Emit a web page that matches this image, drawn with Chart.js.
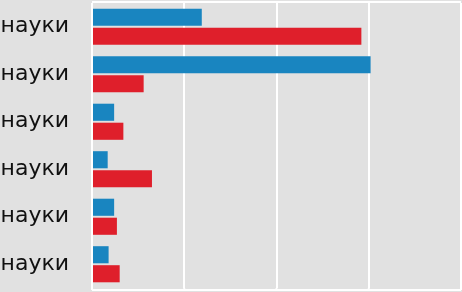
<!DOCTYPE html>
<html>
<head>
<meta charset="utf-8">
<script src="https://cdn.jsdelivr.net/npm/chart.js@4"></script>
<style>
    html, body { margin: 0; padding: 0; background: #e1e1e1; overflow: hidden; }
    #wrap { position: relative; width: 462px; height: 292px; }
</style>
</head>
<body>
<div id="wrap"><canvas id="chart"></canvas></div>
<script>
// Categories (labels are cut off on the left in the source)
const categories = ['науки', 'науки', 'науки', 'науки', 'науки', 'науки'];

// Series values
const blueValues = [11.9, 30.2, 2.4, 1.7, 2.4, 1.8];
const redValues = [29.2, 5.6, 3.4, 6.5, 2.7, 3.0];

// Value axis ticks (gridlines only, no labels shown)
const xTicks = [0, 10, 20, 30, 40];

// White frame lines above and below the plot area, gridlines run down to the lower one
const frame = {
    id: 'frame',
    beforeDatasetsDraw(chart) {
        const { ctx, chartArea: a, scales } = chart;
        const bottom = a.bottom + 2;
        ctx.save();
        ctx.strokeStyle = '#ffffff';
        ctx.lineWidth = 2;
        ctx.beginPath();
        ctx.moveTo(a.left, a.top - 1);
        ctx.lineTo(a.right, a.top - 1);
        ctx.moveTo(a.left, bottom);
        ctx.lineTo(a.right, bottom);
        xTicks.forEach(v => {
            const x = scales.x.getPixelForValue(v);
            ctx.moveTo(x, a.bottom);
            ctx.lineTo(x, bottom);
        });
        ctx.stroke();
        ctx.restore();
    }
};

new Chart(document.getElementById('chart'), {
    type: 'bar',
    data: {
        labels: categories,
        datasets: [{
            data: blueValues,
            backgroundColor: '#1985c0'
        }, {
            data: redValues,
            backgroundColor: '#df1f2b'
        }]
    },
    options: {
        indexAxis: 'y',
        responsive: true,
        maintainAspectRatio: false,
        animation: false,
        devicePixelRatio: 1,
        categoryPercentage: 0.8,
        barPercentage: 0.9,
        layout: { padding: { top: 3, right: 1, left: 0, bottom: 0 } },
        plugins: {
            legend: { display: false },
            tooltip: { enabled: false }
        },
        scales: {
            x: {
                min: xTicks[0],
                max: xTicks[xTicks.length - 1],
                afterBuildTicks: (scale) => {
                    scale.ticks = xTicks.map(v => ({ value: v }));
                },
                ticks: { display: false },
                grid: { color: '#ffffff', lineWidth: 2, drawTicks: false },
                border: { display: false },
                afterFit: (scale) => { scale.height = 4; }
            },
            y: {
                grid: { display: false, drawTicks: false },
                border: { display: false },
                ticks: {
                    color: '#111111',
                    padding: 23,
                    font: { family: 'DejaVu Sans', size: 22 }
                },
                afterFit: (scale) => {
                    scale.width = 92;
                    // the label padding would otherwise push the plot area in
                    scale.paddingTop = 0;
                    scale.paddingBottom = 0;
                }
            }
        }
    },
    plugins: [frame]
});
</script>
</body>
</html>
